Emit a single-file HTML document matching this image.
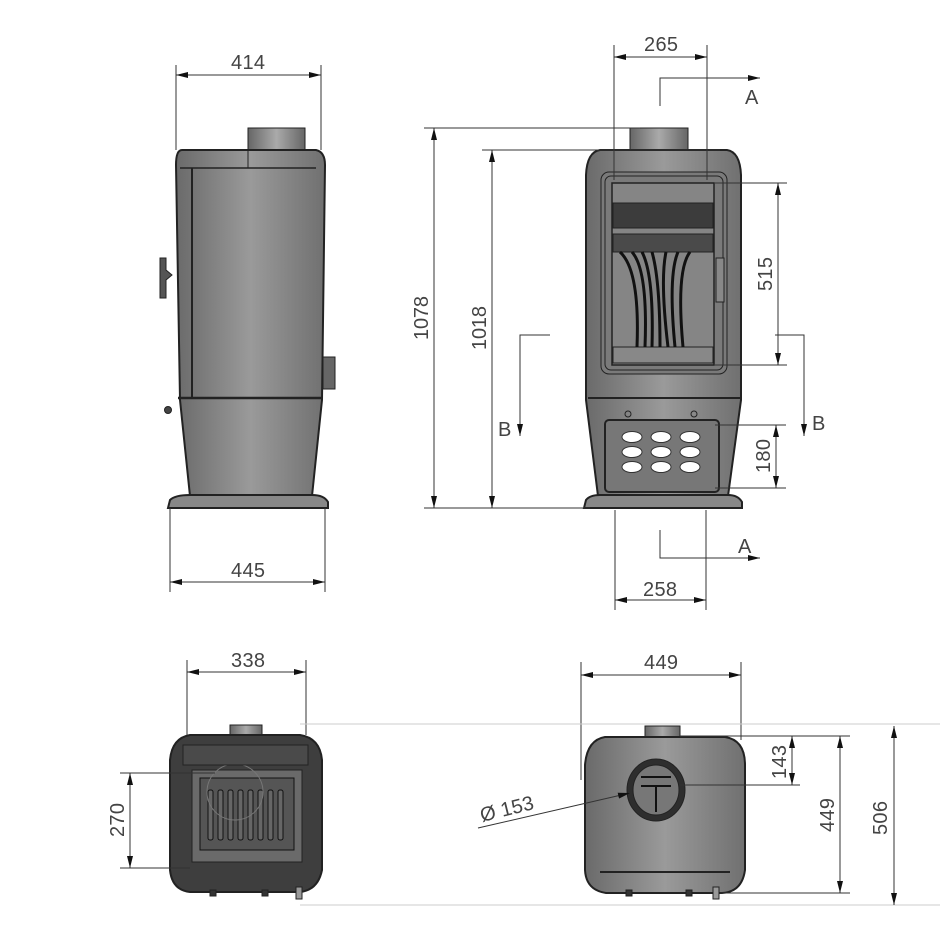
<!DOCTYPE html>
<html><head><meta charset="utf-8"><style>
html,body{margin:0;padding:0;background:#fff;}
svg{display:block;}
text{font-family:"Liberation Sans",sans-serif;font-size:20px;fill:#444;}
</style></head><body>
<svg width="945" height="945" viewBox="0 0 945 945" xmlns="http://www.w3.org/2000/svg">
<defs>
<marker id="a" viewBox="0 0 12 6" refX="12" refY="3" markerWidth="12" markerHeight="6" orient="auto-start-reverse" markerUnits="userSpaceOnUse"><path d="M0,0 L12,3 L0,6z" fill="#111"/></marker>
<linearGradient id="g" x1="0" x2="1"><stop offset="0" stop-color="#6a6a6a"/><stop offset=".5" stop-color="#9a9a9a"/><stop offset="1" stop-color="#707070"/></linearGradient>
<linearGradient id="f" x1="0" x2="1"><stop offset="0" stop-color="#666"/><stop offset=".5" stop-color="#aaa"/><stop offset="1" stop-color="#666"/></linearGradient>
</defs>
<g stroke="#222" stroke-width="1" fill="none">
<!-- SIDE VIEW -->
<rect x="248" y="128" width="57" height="24" fill="url(#f)"/>
<path d="M182,150 L316,150 Q325,152 325,165 L322,400 L312,496 L190,496 L180,400 L176,165 Q176,150 182,150z" fill="url(#g)" stroke-width="2"/>
<line x1="192" y1="168" x2="192" y2="397" stroke-width="2"/>
<line x1="180" y1="168" x2="316" y2="168" stroke-width="1.5"/>
<line x1="248" y1="150" x2="248" y2="168"/>
<line x1="178" y1="398" x2="322" y2="398" stroke-width="2.5"/>
<path d="M160,258 L166,258 L166,270 L172,275 L166,280 L166,298 L160,298z" fill="#555"/>
<rect x="323" y="357" width="12" height="32" fill="#666"/>
<circle cx="168" cy="410" r="3.5" fill="#444"/>
<path d="M168,508 L170,500 Q175,495 190,495 L312,495 Q324,495 328,502 L328,508z" fill="#888" stroke-width="2"/>
<!-- FRONT VIEW -->
<rect x="630" y="128" width="58" height="24" fill="url(#f)"/>
<path d="M600,150 L727,150 Q740,152 741,175 L741,400 L728,496 L598,496 L586,400 L586,175 Q587,152 600,150z" fill="url(#g)" stroke-width="2"/>
<rect x="601" y="172" width="126" height="202" rx="8" fill="#7a7a7a"/>
<rect x="605" y="176" width="118" height="194" rx="6"/>
<rect x="612" y="183" width="102" height="182" fill="#858585" stroke-width="1.5"/>
<rect x="613" y="203" width="100" height="25" fill="#3c3c3c"/>
<rect x="613" y="234" width="100" height="18" fill="#4a4a4a"/>
<rect x="613" y="347" width="100" height="16" fill="#888"/>
<path d="M620,252 Q640,270 637,347 M632,252 Q648,270 645,347 M642,252 Q654,275 652,347 M652,252 Q660,280 660,347 M666,252 Q660,280 668,347 M678,252 Q668,275 675,347 M690,252 Q676,270 683,347" stroke="#111" stroke-width="3"/>
<rect x="716" y="258" width="8" height="44" fill="#888"/>
<line x1="588" y1="398" x2="740" y2="398" stroke-width="2"/>
<rect x="605" y="420" width="114" height="72" rx="4" fill="#777" stroke-width="2"/>
<g fill="#fff" stroke="#333">
<ellipse cx="632" cy="437" rx="10" ry="5.5"/><ellipse cx="661" cy="437" rx="10" ry="5.5"/><ellipse cx="690" cy="437" rx="10" ry="5.5"/>
<ellipse cx="632" cy="452" rx="10" ry="5.5"/><ellipse cx="661" cy="452" rx="10" ry="5.5"/><ellipse cx="690" cy="452" rx="10" ry="5.5"/>
<ellipse cx="632" cy="467" rx="10" ry="5.5"/><ellipse cx="661" cy="467" rx="10" ry="5.5"/><ellipse cx="690" cy="467" rx="10" ry="5.5"/>
</g>
<circle cx="628" cy="414" r="3"/><circle cx="694" cy="414" r="3"/>
<path d="M584,508 L586,500 Q590,495 600,495 L728,495 Q738,495 742,502 L742,508z" fill="#888" stroke-width="2"/>
<!-- BOTTOM LEFT -->
<rect x="230" y="725" width="32" height="12" fill="url(#f)"/>
<path d="M190,735 L300,735 Q320,738 322,760 L322,870 Q318,890 300,892 L190,892 Q172,890 170,870 L170,760 Q172,738 190,735z" fill="#3e3e3e" stroke-width="2"/>
<rect x="192" y="770" width="110" height="92" fill="#6a6a6a"/>
<rect x="200" y="778" width="94" height="72" fill="#555" stroke="#111"/>
<g stroke="#111" fill="#666"><rect x="208" y="790" width="5" height="50" rx="2"/><rect x="218" y="790" width="5" height="50" rx="2"/><rect x="228" y="790" width="5" height="50" rx="2"/><rect x="238" y="790" width="5" height="50" rx="2"/><rect x="248" y="790" width="5" height="50" rx="2"/><rect x="258" y="790" width="5" height="50" rx="2"/><rect x="268" y="790" width="5" height="50" rx="2"/><rect x="278" y="790" width="5" height="50" rx="2"/></g>
<circle cx="235" cy="792" r="28" stroke="#777"/>
<rect x="183" y="745" width="125" height="20" fill="#4a4a4a"/>
<rect x="210" y="890" width="6" height="6" fill="#333"/><rect x="262" y="890" width="6" height="6" fill="#333"/><rect x="296" y="887" width="6" height="12" fill="#999"/>
<!-- BOTTOM RIGHT -->
<rect x="645" y="726" width="35" height="12" fill="url(#f)"/>
<path d="M605,737 L725,737 Q745,740 745,765 L745,870 Q742,892 722,893 L606,893 Q586,890 585,870 L585,765 Q587,740 605,737z" fill="url(#g)" stroke-width="2"/>
<ellipse cx="656" cy="790" rx="29" ry="31" fill="#2e2e2e"/>
<ellipse cx="656" cy="790" rx="23" ry="25" fill="#777"/>
<path d="M641,777 H671 M641,786 H671 M656,786 V812" stroke="#111" stroke-width="2"/>
<line x1="600" y1="872" x2="730" y2="872" stroke-width="2"/>
<rect x="626" y="890" width="6" height="6" fill="#333"/><rect x="686" y="890" width="6" height="6" fill="#333"/><rect x="713" y="887" width="6" height="12" fill="#999"/>
</g>
<!-- DIMENSIONS -->
<g stroke="#333" stroke-width="1" fill="none">
<line x1="176" y1="65" x2="176" y2="150"/><line x1="321" y1="65" x2="321" y2="150"/>
<line x1="176" y1="75" x2="321" y2="75" marker-start="url(#a)" marker-end="url(#a)"/>
<line x1="170" y1="508" x2="170" y2="592"/><line x1="325" y1="508" x2="325" y2="592"/>
<line x1="170" y1="582" x2="325" y2="582" marker-start="url(#a)" marker-end="url(#a)"/>
<line x1="614" y1="45" x2="614" y2="180"/><line x1="707" y1="45" x2="707" y2="180"/>
<line x1="614" y1="57" x2="707" y2="57" marker-start="url(#a)" marker-end="url(#a)"/>
<path d="M660,106 V78 H760" marker-end="url(#a)"/>
<path d="M660,530 V558 H760" marker-end="url(#a)"/>
<line x1="424" y1="128" x2="640" y2="128"/><line x1="482" y1="150" x2="720" y2="150"/><line x1="424" y1="508" x2="590" y2="508"/>
<line x1="434" y1="128" x2="434" y2="508" marker-start="url(#a)" marker-end="url(#a)"/>
<line x1="492" y1="150" x2="492" y2="508" marker-start="url(#a)" marker-end="url(#a)"/>
<path d="M550,335 H520 V436" marker-end="url(#a)"/>
<path d="M775,335 H804 V436" marker-end="url(#a)"/>
<line x1="715" y1="183" x2="787" y2="183"/><line x1="715" y1="365" x2="787" y2="365"/>
<line x1="778" y1="183" x2="778" y2="365" marker-start="url(#a)" marker-end="url(#a)"/>
<line x1="715" y1="425" x2="786" y2="425"/><line x1="715" y1="488" x2="786" y2="488"/>
<line x1="776" y1="425" x2="776" y2="488" marker-start="url(#a)" marker-end="url(#a)"/>
<line x1="615" y1="510" x2="615" y2="610"/><line x1="706" y1="510" x2="706" y2="610"/>
<line x1="615" y1="600" x2="706" y2="600" marker-start="url(#a)" marker-end="url(#a)"/>
<line x1="187" y1="660" x2="187" y2="735"/><line x1="306" y1="660" x2="306" y2="735"/>
<line x1="187" y1="672" x2="306" y2="672" marker-start="url(#a)" marker-end="url(#a)"/>
<line x1="120" y1="773" x2="215" y2="773"/><line x1="120" y1="868" x2="190" y2="868"/>
<line x1="130" y1="773" x2="130" y2="868" marker-start="url(#a)" marker-end="url(#a)"/>
<line x1="581" y1="662" x2="581" y2="780"/><line x1="741" y1="662" x2="741" y2="740"/>
<line x1="581" y1="675" x2="741" y2="675" marker-start="url(#a)" marker-end="url(#a)"/>
<line x1="300" y1="724" x2="940" y2="724" stroke="#ccc"/><line x1="300" y1="905" x2="940" y2="905" stroke="#ccc"/>
<line x1="680" y1="736" x2="850" y2="736"/><line x1="680" y1="785" x2="800" y2="785"/><line x1="720" y1="893" x2="850" y2="893"/>
<line x1="792" y1="736" x2="792" y2="785" marker-start="url(#a)" marker-end="url(#a)"/>
<line x1="840" y1="736" x2="840" y2="893" marker-start="url(#a)" marker-end="url(#a)"/>
<line x1="894" y1="726" x2="894" y2="905" marker-start="url(#a)" marker-end="url(#a)"/>
<line x1="478" y1="828" x2="630" y2="793" marker-end="url(#a)"/>
</g>
<g>
<text x="248" y="69" text-anchor="middle" textLength="34">414</text>
<text x="248" y="577" text-anchor="middle" textLength="34">445</text>
<text x="661" y="51" text-anchor="middle" textLength="34">265</text>
<text x="745" y="104">A</text>
<text x="738" y="553">A</text>
<text x="660" y="596" text-anchor="middle" textLength="34">258</text>
<text x="498" y="436">B</text>
<text x="812" y="430">B</text>
<text transform="translate(428,318) rotate(-90)" text-anchor="middle" textLength="44">1078</text>
<text transform="translate(486,328) rotate(-90)" text-anchor="middle" textLength="44">1018</text>
<text transform="translate(772,274) rotate(-90)" text-anchor="middle" textLength="34">515</text>
<text transform="translate(770,456) rotate(-90)" text-anchor="middle" textLength="34">180</text>
<text x="248" y="667" text-anchor="middle" textLength="34">338</text>
<text transform="translate(124,820) rotate(-90)" text-anchor="middle" textLength="34">270</text>
<text x="661" y="669" text-anchor="middle" textLength="34">449</text>
<text transform="translate(786,762) rotate(-90)" text-anchor="middle" textLength="34">143</text>
<text transform="translate(834,815) rotate(-90)" text-anchor="middle" textLength="34">449</text>
<text transform="translate(887,818) rotate(-90)" text-anchor="middle" textLength="34">506</text>
<text transform="translate(482,822) rotate(-14)">Ø 153</text>
</g>
</svg>
</body></html>
